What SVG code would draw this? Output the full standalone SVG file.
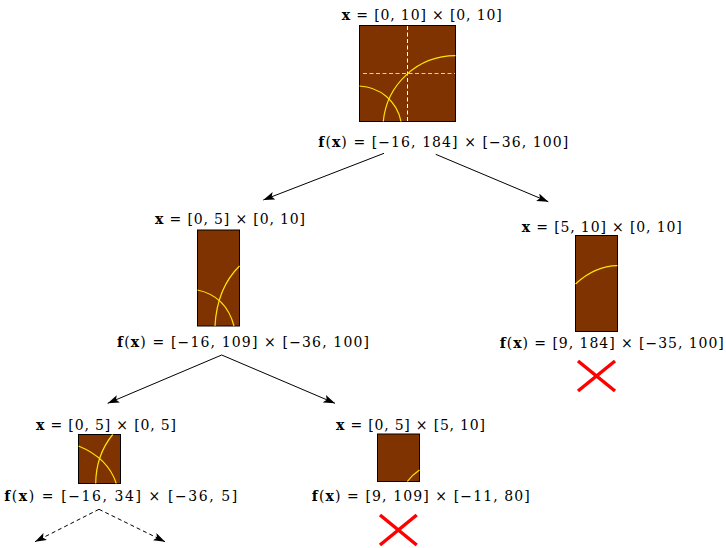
<svg xmlns="http://www.w3.org/2000/svg" width="726" height="548" viewBox="0 0 726 548">
<style>
  text { font-family: "DejaVu Serif", "Liberation Serif", serif; font-size: 14px; fill: #000; text-anchor: middle; }
  .b { font-weight: bold; }
  .box { fill: #7F3300; stroke: #000; stroke-width: 1; }
  .arc { fill: none; stroke: #FFE600; stroke-width: 1.2; }
  .vd { stroke: #FFFFFF; stroke-width: 1; stroke-dasharray: 4 2.5; }
  .hd { stroke: #E8C8B8; stroke-width: 1; stroke-dasharray: 4 2.5; }
  .cross { stroke: #FF0000; stroke-width: 3.5; }
  .conn { stroke: #000; stroke-width: 1; fill: none; marker-end: url(#ah); }
  .dconn { stroke: #000; stroke-width: 1; fill: none; stroke-dasharray: 4 3; marker-end: url(#ah); }
</style>
<defs>
  <marker id="ah" markerUnits="userSpaceOnUse" markerWidth="13" markerHeight="9" refX="11.5" refY="4" orient="auto">
    <path d="M0,0 L11.5,4 L0,8 L2.5,4 z" fill="#000"/>
  </marker>
</defs>

<g id="connectors">
  <line class="conn" x1="384" y1="153.3" x2="263.3" y2="200"/>
  <line class="conn" x1="435.7" y1="154.3" x2="548.3" y2="201.7"/>
  <line class="conn" x1="221.7" y1="355" x2="107.7" y2="403.3"/>
  <line class="conn" x1="221.7" y1="355" x2="335" y2="403.3"/>
  <line class="dconn" x1="99" y1="509.3" x2="35" y2="541.7"/>
  <line class="dconn" x1="99" y1="509.3" x2="165" y2="541.7"/>
</g>

<g id="node-root">
  <text x="421.7" y="20" textLength="160"><tspan class="b">x</tspan> = [0, 10] × [0, 10]</text>
  <rect class="box" x="359.5" y="25.5" width="96" height="96"/>
  <line class="vd" x1="407.5" y1="26" x2="407.5" y2="121"/>
  <line class="hd" x1="363" y1="73.5" x2="455" y2="73.5"/>
  <path class="arc" d="M359.5,86 A44.1,44.1 0 0 1 401,121.5"/>
  <path class="arc" d="M383.3,121.5 A72.4,72.4 0 0 1 455.5,55.7"/>
  <text x="443.3" y="146.5" textLength="250"><tspan class="b">f</tspan>(<tspan class="b">x</tspan>) = [−16, 184] × [−36, 100]</text>
</g>

<g id="node-left">
  <text x="230" y="223.5" textLength="150"><tspan class="b">x</tspan> = [0, 5] × [0, 10]</text>
  <rect class="box" x="197.5" y="230" width="42" height="96"/>
  <path class="arc" d="M197.5,290 Q226,296 234,326"/>
  <path class="arc" d="M215,326 Q217,288 239.5,266"/>
  <text x="243" y="346.5" textLength="252"><tspan class="b">f</tspan>(<tspan class="b">x</tspan>) = [−16, 109] × [−36, 100]</text>
</g>

<g id="node-right">
  <text x="601.7" y="231.5" textLength="160"><tspan class="b">x</tspan> = [5, 10] × [0, 10]</text>
  <rect class="box" x="575.5" y="235.5" width="42" height="96"/>
  <path class="arc" d="M575.5,284 Q595,266 617.5,265.7"/>
  <text x="611.8" y="347.5" textLength="224"><tspan class="b">f</tspan>(<tspan class="b">x</tspan>) = [9, 184] × [−35, 100]</text>
  <line class="cross" x1="578" y1="361" x2="615" y2="391"/>
  <line class="cross" x1="578" y1="391" x2="615" y2="361"/>
</g>

<g id="node-left-left">
  <text x="106" y="430" textLength="140"><tspan class="b">x</tspan> = [0, 5] × [0, 5]</text>
  <rect class="box" x="78.5" y="434.5" width="42" height="49"/>
  <path class="arc" d="M78.5,446 Q108,458 116.3,483.5"/>
  <path class="arc" d="M95.7,483.5 Q96,455 112.7,434.5"/>
  <text x="120.7" y="501" textLength="233"><tspan class="b">f</tspan>(<tspan class="b">x</tspan>) = [−16, 34] × [−36, 5]</text>
</g>

<g id="node-left-right">
  <text x="410.5" y="430" textLength="149"><tspan class="b">x</tspan> = [0, 5] × [5, 10]</text>
  <rect class="box" x="377.5" y="434" width="42" height="47.5"/>
  <path class="arc" d="M407.3,481.5 Q412,475 419.5,470"/>
  <text x="420.8" y="501" textLength="218"><tspan class="b">f</tspan>(<tspan class="b">x</tspan>) = [9, 109] × [−11, 80]</text>
  <line class="cross" x1="380" y1="515" x2="416.7" y2="545"/>
  <line class="cross" x1="380" y1="545" x2="416.7" y2="515"/>
</g>
</svg>
